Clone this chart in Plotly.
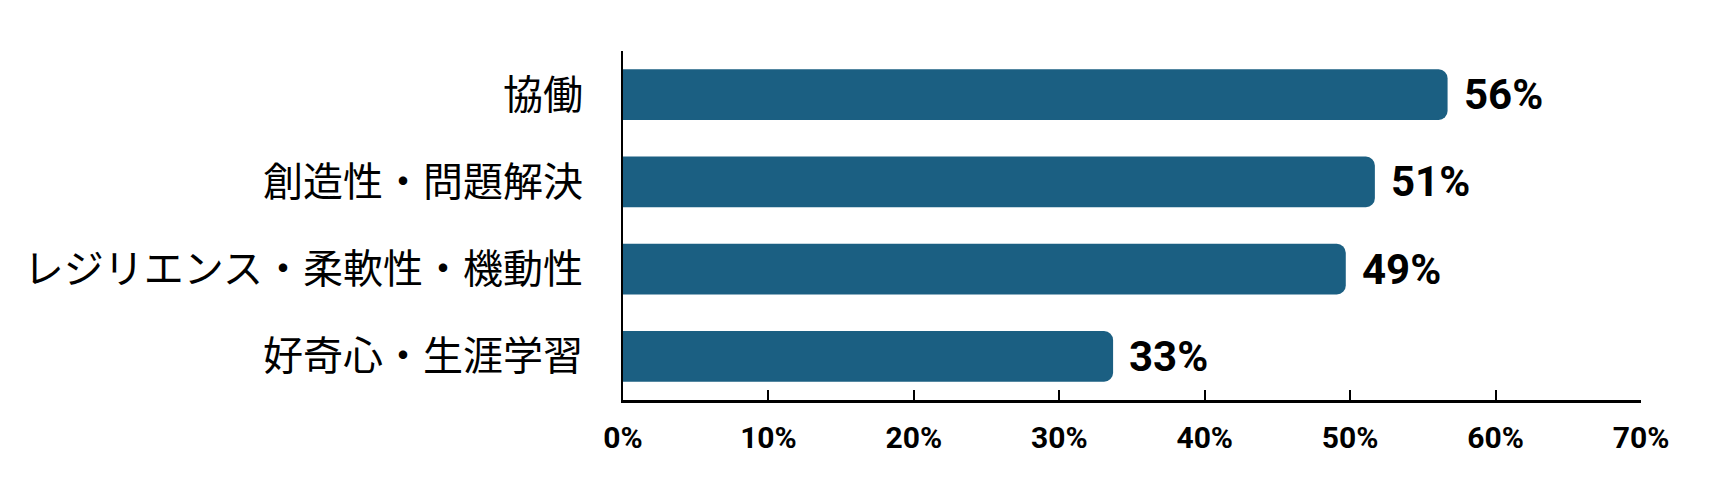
import plotly.graph_objects as go

categories = ["協働", "創造性・問題解決", "レジリエンス・柔軟性・機動性", "好奇心・生涯学習"]
values = [56.7, 51.7, 49.7, 33.7]
value_labels = ["56%", "51%", "49%", "33%"]
x_ticks = [0, 10, 20, 30, 40, 50, 60, 70]
x_tick_labels = ["0%", "10%", "20%", "30%", "40%", "50%", "60%", "70%"]

NARROW = "Roboto, Liberation Sans, sans-serif"
JP = "Noto Sans CJK JP, sans-serif"

fig = go.Figure()
fig.add_trace(go.Bar(
    x=values, y=categories, orientation="h",
    marker=dict(color="#1b5f82", cornerradius=9, line=dict(width=0)),
    hoverinfo="skip",
))

for v, c, t in zip(values, categories, value_labels):
    fig.add_annotation(
        x=v, y=c, xref="x", yref="y", text=t,
        showarrow=False, xanchor="left", yanchor="middle", xshift=14,
        font=dict(family=NARROW, size=42, color="#000000", weight=700),
    )

fig.update_layout(
    width=1719, height=488,
    margin=dict(l=623, r=78, t=51, b=88),
    paper_bgcolor="white", plot_bgcolor="white",
    bargap=0.42,
    showlegend=False,
    xaxis=dict(
        range=[0, 70], tickvals=x_ticks, ticktext=x_tick_labels,
        showgrid=False, zeroline=False, automargin=False,
        showline=True, linecolor="black", linewidth=3,
        ticks="inside", ticklen=10, tickwidth=2, tickcolor="black",
        tickfont=dict(family=NARROW, size=30, color="black", weight=700),
        ticklabelstandoff=9,
    ),
    yaxis=dict(
        autorange="reversed", showgrid=False, zeroline=False, automargin=False,
        showline=True, linecolor="black", linewidth=2,
        ticks="", tickfont=dict(family=JP, size=40, color="black"),
        ticklabelstandoff=30,
    ),
)

fig.write_html("out.html")
